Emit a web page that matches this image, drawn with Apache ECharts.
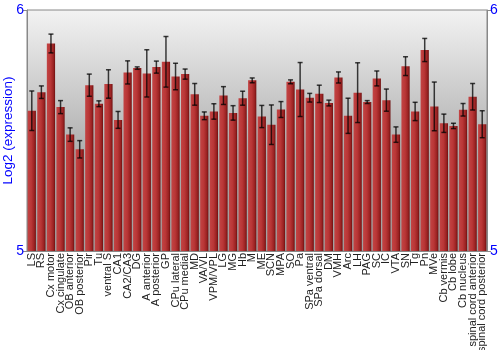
<!DOCTYPE html>
<html><head><meta charset="utf-8">
<script src="https://cdn.jsdelivr.net/npm/echarts@6/dist/echarts.min.js"></script>
<style>html,body{margin:0;padding:0;background:#fff}#c{width:500px;height:350px}</style>
</head><body><div id="c"></div>
<script>
const categories = ["LS","RS","Cx motor","Cx cingulate","OB anterior","OB posterior","Pir","Tu","ventral S","CA1","CA2/CA3","DG","A anterior","A posterior","GP","CPu lateral","CPu medial","MD","VA/VL","VPM/VPL","LG","MG","Hb","M","ME","SCN","MPA","SO","Pa","SPa ventral","SPa dorsal","DM","VMH","Arc","LH","PAG","SC","IC","VTA","SN","Tg","Pn","MVe","Cb vermis","Cb lobe","Cb nucleus","spinal cord anterior","spinal cord posterior"];
const values = [5.582,5.659,5.861,5.597,5.483,5.422,5.688,5.611,5.693,5.544,5.741,5.759,5.737,5.763,5.785,5.724,5.734,5.650,5.561,5.579,5.645,5.573,5.634,5.708,5.558,5.524,5.587,5.702,5.670,5.636,5.652,5.614,5.720,5.561,5.657,5.618,5.716,5.626,5.483,5.767,5.579,5.834,5.600,5.530,5.519,5.586,5.640,5.526];
const errors = [0.082,0.026,0.039,0.027,0.028,0.036,0.046,0.012,0.059,0.035,0.048,0.005,0.098,0.025,0.105,0.055,0.021,0.045,0.016,0.032,0.037,0.030,0.029,0.010,0.046,0.082,0.033,0.008,0.112,0.018,0.036,0.012,0.023,0.073,0.124,0.006,0.031,0.046,0.032,0.039,0.038,0.048,0.101,0.038,0.011,0.026,0.055,0.056];
const yTicks = [5, 6];

const chart = echarts.init(document.getElementById('c'), null, {renderer:'canvas'});
const errData = values.map((v,i)=>[i, v-errors[i], v+errors[i]]);
chart.setOption({
  animation:false,
  textStyle:{fontFamily:'Liberation Sans, Arial, sans-serif'},
  grid:{left:27,right:13,top:10,bottom:99,containLabel:false,outerBoundsMode:'none',show:true,borderColor:'#888',borderWidth:1,
    backgroundColor:new echarts.graphic.LinearGradient(0,0,0,1,[{offset:0,color:'#f3f3f3'},{offset:0.6,color:'#adadad'},{offset:1,color:'#a0a0a0'}])},
  xAxis:{type:'category',data:categories,
    axisLine:{lineStyle:{color:'#888'}},axisTick:{show:false},
    axisLabel:{rotate:90,interval:0,fontSize:11,color:'#222',margin:2}},
  yAxis:[
    {type:'value',min:yTicks[0],max:yTicks[1],interval:1,name:'Log2 (expression)',nameLocation:'middle',nameGap:12,nameMoveOverlap:false,
     nameTextStyle:{color:'#0000ff',fontSize:13.5},
     axisLine:{show:true,lineStyle:{color:'#888'}},axisTick:{show:true,length:4,lineStyle:{color:'#888'}},
     axisLabel:{color:'#0000ff',fontSize:14,margin:3},splitLine:{show:false}},
    {type:'value',min:yTicks[0],max:yTicks[1],interval:1,position:'right',
     axisLine:{show:true,lineStyle:{color:'#888'}},axisTick:{show:true,length:4,lineStyle:{color:'#888'}},
     axisLabel:{color:'#0000ff',fontSize:14,margin:3},splitLine:{show:false}}
  ],
  series:[
    {type:'bar',data:values,barCategoryGap:'14%',
     itemStyle:{color:new echarts.graphic.LinearGradient(0,0,1,0,[{offset:0,color:'#c24444'},{offset:0.45,color:'#b93636'},{offset:0.8,color:'#9a2222'},{offset:1,color:'#6e1010'}])}},
    {type:'custom',data:errData,z:5,
     renderItem:function(params,api){
       const x=api.value(0);
       const lo=api.coord([x,api.value(1)]);
       const hi=api.coord([x,api.value(2)]);
       const w=2.5;
       const st={stroke:'rgba(0,0,0,0.75)',lineWidth:1.5};
       return {type:'group',children:[
         {type:'line',shape:{x1:hi[0],y1:hi[1],x2:lo[0],y2:lo[1]},style:st},
         {type:'line',shape:{x1:hi[0]-w,y1:hi[1],x2:hi[0]+w,y2:hi[1]},style:st},
         {type:'line',shape:{x1:lo[0]-w,y1:lo[1],x2:lo[0]+w,y2:lo[1]},style:st}
       ]};
     }}
  ]
});
</script></body></html>
